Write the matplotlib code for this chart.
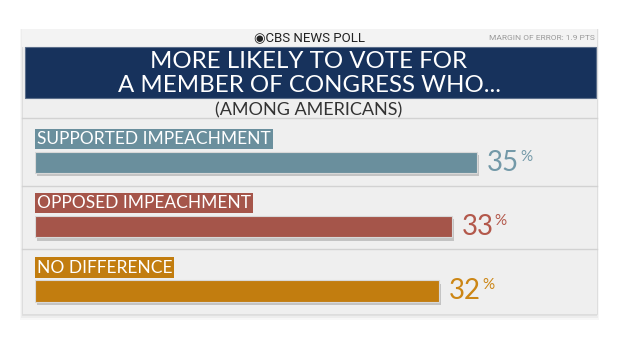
import matplotlib.pyplot as plt
from matplotlib.patches import Rectangle

# Data
categories = ['SUPPORTED IMPEACHMENT', 'OPPOSED IMPEACHMENT', 'NO DIFFERENCE']
values = [35, 33, 32]
bar_colors = ['#6a8f9d', '#a5554a', '#c27d0f']
text_colors = ['#7399a8', '#b3584b', '#cc8615']

title_lines = ['MORE LIKELY TO VOTE FOR', 'A MEMBER OF CONGRESS WHO...']
subtitle = '(AMONG AMERICANS)'
brand = 'CBS NEWS POLL'
moe = 'MARGIN OF ERROR: 1.9 PTS'

plt.rcParams['font.family'] = ['Lato', 'DejaVu Sans']

W, H = 620, 349
fig = plt.figure(figsize=(W / 100, H / 100), dpi=100)
fig.patch.set_facecolor('white')

# background axes in pixel coordinates
bg = fig.add_axes([0, 0, 1, 1])
bg.set_xlim(0, W)
bg.set_ylim(H, 0)
bg.axis('off')

# card with soft shadow
for i, a in enumerate([0.05, 0.04, 0.03]):
    bg.add_patch(Rectangle((22 - i, 29), 575 + 2 * i, 285 + 2 * (i + 1), color='#000000', alpha=a, lw=0))
bg.add_patch(Rectangle((22, 29), 575, 285, facecolor='#efefef', edgecolor='#dcdcdc', lw=0.6))
bg.add_patch(Rectangle((22, 29), 575, 18, facecolor='#f3f3f3', lw=0))

# header
bg.text(309, 38, '\u25c9' + brand, ha='center', va='center', fontsize=9.5,
        color='#222222', family=['Roboto', 'DejaVu Sans'])
bg.text(595, 38.5, moe, ha='right', va='center', fontsize=6, color='#9a9a9a',
        family=['Roboto', 'DejaVu Sans'])

# title box
bg.add_patch(Rectangle((25, 47), 571, 51, facecolor='#17325c', edgecolor='#5b6e8a', lw=0.8))
bg.text(309, 62, title_lines[0], ha='center', va='center', fontsize=17.3, color='white')
bg.text(309, 85, title_lines[1], ha='center', va='center', fontsize=17.3, color='white')

# subtitle
bg.text(309, 110, subtitle, ha='center', va='center', fontsize=13, color='#333333')
for y in [118, 186, 249]:
    bg.plot([22, 597], [y, y], color='#d2d2d2', lw=1)

# bar axes: zero at x=35px, 12.63 px per point
ax = fig.add_axes([35 / W, 1 - 323.1 / H, 564 / W, (323.1 - 130.4) / H])
ax.set_xlim(0, 564 / 12.63)
ax.set_ylim(2.5, -0.5)
ax.axis('off')
ax.patch.set_alpha(0)

pos = list(range(len(values)))
# shadows
ax.barh([p + 0.05 for p in pos], values, left=0.15, height=0.33, color='#000000', alpha=0.18, lw=0)
ax.barh(pos, values, height=0.33, color=bar_colors, edgecolor='#d8d8d8', lw=0.8)

for p, cat, v, bc, tc in zip(pos, categories, values, bar_colors, text_colors):
    ax.text(0.15, p - 0.365, cat, ha='left', va='center', fontsize=12.5, color='white',
            bbox=dict(boxstyle='square,pad=0.12', facecolor=bc, edgecolor='none'))
    t = ax.text(v + 0.8, p, str(v), ha='left', va='center', fontsize=20, color=tc)
    ax.annotate('%', xy=(1, 1), xycoords=t, xytext=(0.5, 0), textcoords='offset points',
                ha='left', va='top', fontsize=11, color=tc)

fig.savefig('out.png', dpi=100)
